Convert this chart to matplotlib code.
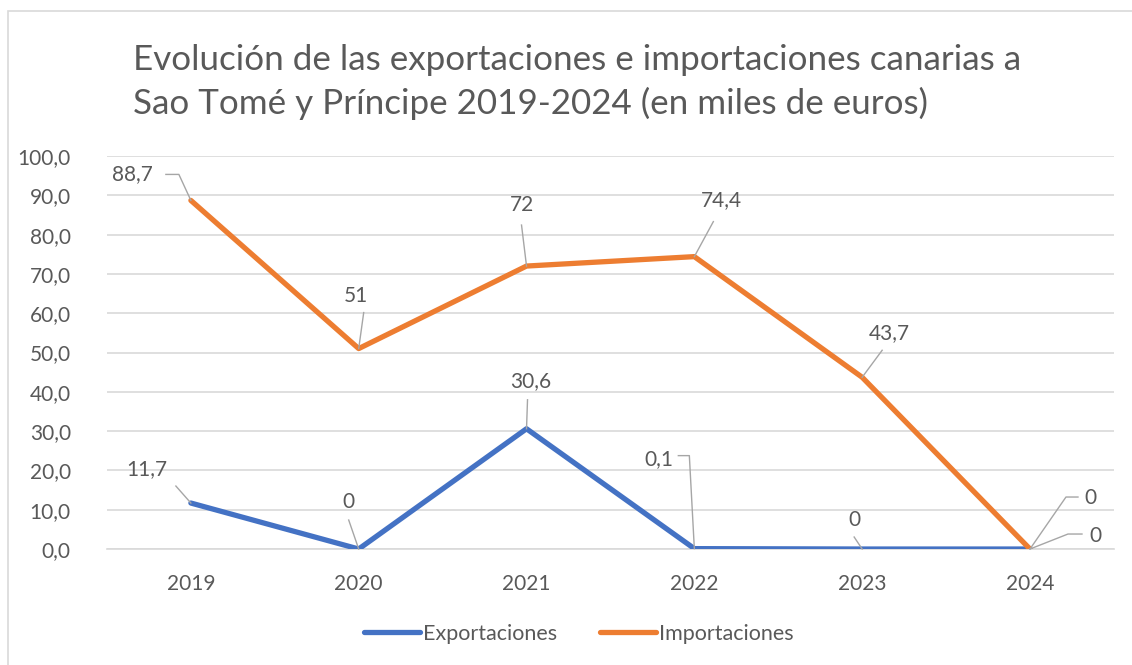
import matplotlib.pyplot as plt
from matplotlib.transforms import offset_copy
from matplotlib.patches import Rectangle

# datos del grafico
years = ['2019', '2020', '2021', '2022', '2023', '2024']
exportaciones = [11.7, 0, 30.6, 0.1, 0, 0]
importaciones = [88.7, 51, 72, 74.4, 43.7, 0]
export_labels = ['11,7', '0', '30,6', '0,1', '0', '0']
import_labels = ['88,7', '51', '72', '74,4', '43,7', '0']
yticks = [0, 10, 20, 30, 40, 50, 60, 70, 80, 90, 100]

blue = '#4472C4'
orange = '#ED7D31'
txt = '#595959'
leader = '#A6A6A6'

plt.rcParams['font.family'] = ['Lato', 'DejaVu Sans']

fig = plt.figure(figsize=(11.32, 6.65), dpi=100)
ax = fig.add_axes([0.0945, 0.1744, 0.8895, 0.591])

# borde del grafico
fig.patches.append(Rectangle((8 / 1132, -0.05), 1.2, (665 - 11) / 665 + 0.05,
                             transform=fig.transFigure, fill=False,
                             edgecolor='#D9D9D9', linewidth=1.2))

x = list(range(len(years)))
ax.plot(x, exportaciones, color=blue, linewidth=3.8, label='Exportaciones',
        solid_capstyle='round', zorder=3)
ax.plot(x, importaciones, color=orange, linewidth=3.8, label='Importaciones',
        solid_capstyle='round', zorder=4)

ax.set_xlim(-0.5, len(years) - 0.5)
ax.set_ylim(0, 100)
ax.set_yticks(yticks)
ax.set_yticklabels([f'{v:.1f}'.replace('.', ',') for v in yticks])
ax.set_xticks(x)
ax.set_xticklabels(years)
ax.grid(axis='y', color='#D9D9D9', linewidth=1.2)
ax.set_axisbelow(True)
for s in ax.spines.values():
    s.set_visible(False)
ax.spines['bottom'].set_visible(True)
ax.spines['bottom'].set_color('#D9D9D9')
ax.spines['bottom'].set_linewidth(1.2)
ax.tick_params(axis='both', length=0, labelsize=15, labelcolor=txt)
ax.tick_params(axis='y', pad=26)
ax.tick_params(axis='x', pad=18)

# etiquetas: (dx, dy) del texto y camino del conector, en pixeles respecto al punto
imp_pos = [
    ((-58, 26), [(-25, 26), (-12, 26), (0, 0)]),
    ((-3, 53), [(5, 36), (0, 0)]),
    ((-5, 61), [(-5, 41), (0, 0)]),
    ((27, 57), [(19, 35), (0, 0)]),
    ((27, 44), [(20, 27), (0, 0)]),
    ((60, 51), [(48, 52), (36, 52), (0, 0)]),
]
exp_pos = [
    ((-44, 34), [(-15, 17), (0, 0)]),
    ((-10, 47), [(-10, 29), (0, 0)]),
    ((4, 48), [(1, 29), (0, 0)]),
    ((-35, 90), [(-16, 93), (-5, 93), (0, 0)]),
    ((-8, 29), [(-8, 12), (0, 0)]),
    ((65, 13), [(52, 15), (38, 15), (0, 0)]),
]


def leader_path(xi, yi, path):
    px = []
    py = []
    for dx, dy in path:
        tr = offset_copy(ax.transData, fig=fig, x=dx, y=dy, units='dots')
        d = ax.transData.inverted().transform(tr.transform((xi, yi)))
        px.append(d[0])
        py.append(d[1])
    return px, py


for i in range(len(years)):
    for vals, labs, pos in ((importaciones, import_labels, imp_pos),
                            (exportaciones, export_labels, exp_pos)):
        tpos, path = pos[i]
        px, py = leader_path(x[i], vals[i], path)
        ax.plot(px, py, color=leader, linewidth=1.0, clip_on=False, zorder=5)
        ax.annotate(labs[i], xy=(x[i], vals[i]), xytext=tpos,
                    textcoords='offset pixels', ha='center', va='center',
                    fontsize=15, color=txt, annotation_clip=False)

fig.text(133 / 1132, 1 - 60 / 665,
         'Evolución de las exportaciones e importaciones canarias a',
         fontsize=25.2, color=txt, ha='left', va='center')
fig.text(133 / 1132, 1 - 103 / 665,
         'Sao Tomé y Príncipe 2019-2024 (en miles de euros)',
         fontsize=25.2, color=txt, ha='left', va='center')

fig.legend(loc='center', bbox_to_anchor=(579 / 1132, 1 - 634 / 665), ncol=2,
           frameon=False, fontsize=15.5, labelcolor=txt, handlelength=2.6,
           handletextpad=0.15, columnspacing=2.0)

fig.savefig('out.png', dpi=100)
